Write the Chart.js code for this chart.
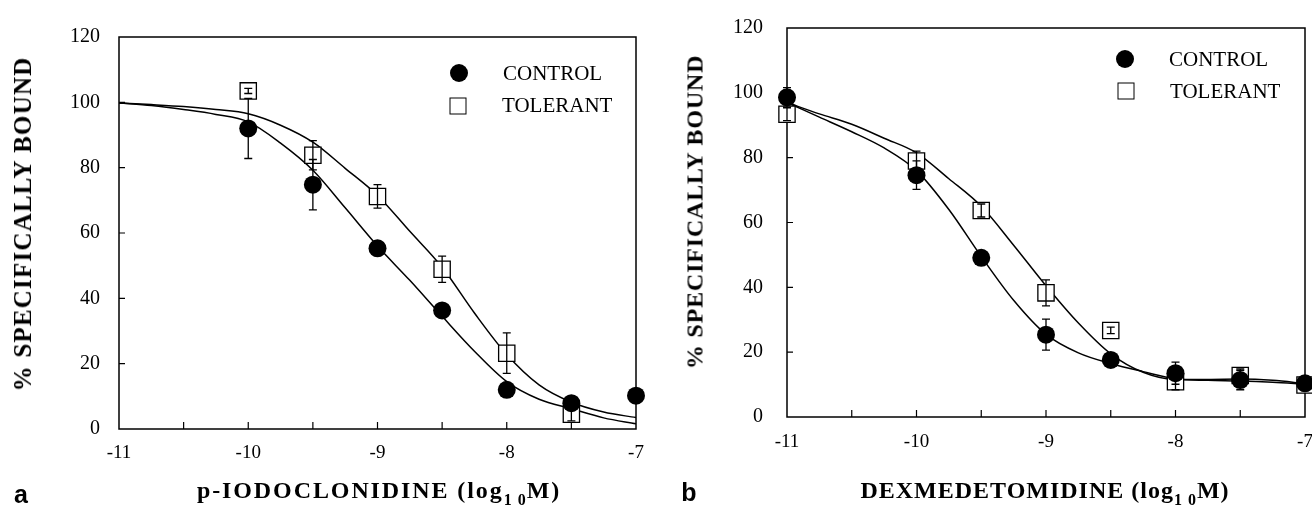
<!DOCTYPE html>
<html>
<head>
<meta charset="utf-8">
<script src="https://cdn.jsdelivr.net/npm/chart.js@4.4.1/dist/chart.umd.min.js"></script>
<style>
  html, body { margin:0; padding:0; background:#fff; width:1312px; height:518px; overflow:hidden; position:relative; }
  canvas { position:absolute; top:0; }
  .serif { font-family:"Liberation Serif","Times New Roman",serif; color:#000; position:absolute; white-space:nowrap; }
  .ytitle { font-size:25px; font-weight:bold; letter-spacing:1.2px; transform:translate(-50%,-50%) rotate(-90deg); }
  .xtitle { font-size:24px; font-weight:bold; letter-spacing:1.9px; transform:translate(-50%,-50%); }
  .xtitle sub { font-size:16px; vertical-align:-7px; letter-spacing:1px; }
  .tag { position:absolute; font:bold 25px "Liberation Sans",Arial,sans-serif; transform:translate(-50%,-50%); }
  .leg { font-size:21px; transform:translateY(-50%); }
  .dot { position:absolute; width:18px; height:18px; border-radius:50%; background:#000; transform:translate(-50%,-50%); }
  .box { position:absolute; width:15px; height:15px; border:1.3px solid #000; background:#fff; transform:translate(-50%,-50%); }
</style>
</head>
<body>
<canvas id="chart-a" width="660" height="518" style="left:0"></canvas>
<canvas id="chart-b" width="680" height="518" style="left:660px"></canvas>

<div class="serif ytitle" style="left:23px; top:224px">% SPECIFICALLY BOUND</div>
<div class="serif ytitle" style="left:695px; top:212px; font-size:24px; letter-spacing:0.8px">% SPECIFICALLY BOUND</div>

<div class="serif xtitle" style="left:379px; top:493px">p-IODOCLONIDINE (log<sub>1 0</sub>M)</div>
<div class="serif xtitle" style="left:1045px; top:493px; letter-spacing:1px">DEXMEDETOMIDINE (log<sub>1 0</sub>M)</div>

<div class="tag" style="left:21px; top:494px">a</div>
<div class="tag" style="left:689px; top:492px">b</div>

<div class="dot" style="left:459px; top:73px"></div>
<div class="serif leg" style="left:503px; top:73px">CONTROL</div>
<div class="box" style="left:458px; top:106px"></div>
<div class="serif leg" style="left:502px; top:105px">TOLERANT</div>

<div class="dot" style="left:1125px; top:59px"></div>
<div class="serif leg" style="left:1169px; top:59px">CONTROL</div>
<div class="box" style="left:1126px; top:91px"></div>
<div class="serif leg" style="left:1170px; top:91px">TOLERANT</div>

<script>
// ---- axes ----
const X_MIN = -11, X_MAX = -7;
const Y_MIN = 0,   Y_MAX = 120;
const X_MARKS = [-10.5, -10, -9.5, -9, -8.5, -8, -7.5];   // inward tick marks
const Y_MARKS = [20, 40, 60, 80, 100];

// ---- panel a: p-iodoclonidine ----
const A_CTRL_X   = [-10, -9.5, -9, -8.5, -8, -7.5, -7];
const A_CTRL     = [92, 74.8, 55.3, 36.3, 12, 7.9, 10.2];
const A_CTRL_ERR = [9.2, 7.7, 0, 0, 0, 0, 0];
const A_TOL_X    = [-10, -9.5, -9, -8.5, -8, -7.5];
const A_TOL      = [103.5, 83.8, 71.2, 48.9, 23.2, 4.5];
const A_TOL_ERR  = [0.8, 4.5, 3.6, 4, 6.2, 2];

// fitted curves
const CURVE_X     = [-11, -10.75, -10.5, -10.25, -10, -9.75, -9.5, -9.25, -9, -8.75, -8.5, -8.25, -8, -7.75, -7.5, -7.25, -7];
const A_CTRL_FIT  = [99.8, 99, 97.8, 96.3, 94, 87.5, 79.2, 67.7, 56, 45.5, 34.5, 23.8, 14.5, 9.1, 6.2, 3.4, 1.6];
const A_TOL_FIT   = [99.8, 99.3, 98.7, 97.8, 96.5, 93, 87.8, 79.8, 71.5, 60.5, 49.5, 35.5, 22.8, 13.5, 8.2, 5.2, 3.5];

// ---- panel b: dexmedetomidine ----
const B_X        = [-11, -10, -9.5, -9, -8.5, -8, -7.5, -7];
const B_CTRL     = [98.6, 74.6, 49.1, 25.4, 17.6, 13.5, 11.4, 10.4];
const B_CTRL_ERR = [3, 4.4, 1, 4.8, 1, 3.4, 3, 1];
const B_TOL      = [93.4, 79, 63.7, 38.3, 26.7, 10.9, 12.8, 9.9];
const B_TOL_ERR  = [2, 3, 2, 4, 1, 2.5, 2, 1];

const B_CTRL_FIT = [97, 92.5, 88, 83, 76, 64, 49.5, 36, 25.5, 19.8, 16.5, 14, 11.8, 11.3, 11.1, 10.7, 10.1];
const B_TOL_FIT  = [97, 93.5, 90.3, 86, 81.5, 73.5, 65, 53, 40.5, 29, 19.5, 13.8, 11.6, 11.6, 11.7, 11.3, 10.3];

const pts = (xs, ys) => xs.map((x, i) => ({ x, y: ys[i] }));

// box round the plot + small inward ticks
const framePlugin = {
  id: 'frame',
  beforeDatasetsDraw(chart) {
    const { ctx, chartArea: a, scales } = chart;
    ctx.save();
    ctx.strokeStyle = '#000';
    ctx.lineWidth = 1.5;
    ctx.strokeRect(a.left, a.top, a.right - a.left, a.bottom - a.top);
    ctx.lineWidth = 1.2;
    ctx.beginPath();
    X_MARKS.forEach(v => {
      const px = scales.x.getPixelForValue(v);
      ctx.moveTo(px, a.bottom); ctx.lineTo(px, a.bottom - 7);
    });
    Y_MARKS.forEach(v => {
      const py = scales.y.getPixelForValue(v);
      ctx.moveTo(a.left, py); ctx.lineTo(a.left + 6, py);
    });
    ctx.stroke();
    ctx.restore();
  }
};

// SEM bars, drawn on top so they show through the open squares
const errPlugin = {
  id: 'errbars',
  afterDatasetsDraw(chart) {
    const { ctx, scales } = chart;
    ctx.save();
    ctx.strokeStyle = '#000';
    ctx.lineWidth = 1.3;
    chart.data.datasets.forEach((ds, di) => {
      if (!ds.errs) return;
      const meta = chart.getDatasetMeta(di);
      meta.data.forEach((el, i) => {
        const e = ds.errs[i];
        if (!e) return;
        const v  = ds.data[i].y;
        const y1 = scales.y.getPixelForValue(v + e);
        const y2 = scales.y.getPixelForValue(v - e);
        ctx.beginPath();
        ctx.moveTo(el.x, y1); ctx.lineTo(el.x, y2);
        ctx.moveTo(el.x - 4, y1); ctx.lineTo(el.x + 4, y1);
        ctx.moveTo(el.x - 4, y2); ctx.lineTo(el.x + 4, y2);
        ctx.stroke();
      });
    });
    ctx.restore();
  }
};

function makeChart(id, opts) {
  const fit = (xs, ys) => ({
    data: pts(xs, ys), showLine: true, pointRadius: 0, borderColor: '#000',
    borderWidth: 1.5, cubicInterpolationMode: 'monotone', fill: false
  });
  return new Chart(document.getElementById(id), {
    type: 'scatter',
    data: {
      datasets: [
        { label: 'CONTROL', data: pts(opts.ctrlX, opts.ctrl), errs: opts.ctrlErr,
          pointStyle: 'circle', pointRadius: 9, backgroundColor: '#000', borderColor: '#000', borderWidth: 0, clip: false },
        { label: 'TOLERANT', data: pts(opts.tolX, opts.tol), errs: opts.tolErr,
          pointStyle: 'rect', pointRadius: 11.5, backgroundColor: '#fff', borderColor: '#000', borderWidth: 1.3, clip: false },
        fit(CURVE_X, opts.ctrlFit),
        fit(CURVE_X, opts.tolFit),
      ]
    },
    options: {
      responsive: false, animation: false, devicePixelRatio: 1,
      layout: { padding: { top: opts.top, right: opts.right, left: 0, bottom: 0 } },
      plugins: { legend: { display: false }, tooltip: { enabled: false } },
      scales: {
        x: {
          type: 'linear', min: X_MIN, max: X_MAX,
          grid: { display: false, drawTicks: false }, border: { display: false },
          ticks: { stepSize: 1, padding: opts.xpad, color: '#000', font: { family: 'Liberation Serif', size: 19 } },
          afterFit: s => { s.height = opts.xh; s.paddingLeft = 0; s.paddingRight = 0; }
        },
        y: {
          min: Y_MIN, max: Y_MAX,
          grid: { display: false, drawTicks: false }, border: { display: false },
          ticks: { stepSize: 20, padding: opts.ypad, color: '#000', font: { family: 'Liberation Serif', size: 20 } },
          afterFit: s => { s.width = opts.yw; s.paddingTop = 0; s.paddingBottom = 0; }
        }
      }
    },
    plugins: [framePlugin, errPlugin]
  });
}

makeChart('chart-a', {
  ctrlX: A_CTRL_X, ctrl: A_CTRL, ctrlErr: A_CTRL_ERR,
  tolX: A_TOL_X, tol: A_TOL, tolErr: A_TOL_ERR,
  ctrlFit: A_CTRL_FIT, tolFit: A_TOL_FIT,
  top: 37, right: 24, yw: 119, xh: 89, ypad: 19, xpad: 13
});

makeChart('chart-b', {
  ctrlX: B_X, ctrl: B_CTRL, ctrlErr: B_CTRL_ERR,
  tolX: B_X, tol: B_TOL, tolErr: B_TOL_ERR,
  ctrlFit: B_CTRL_FIT, tolFit: B_TOL_FIT,
  top: 28, right: 35, yw: 127, xh: 101, ypad: 24, xpad: 14
});
</script>
</body>
</html>
